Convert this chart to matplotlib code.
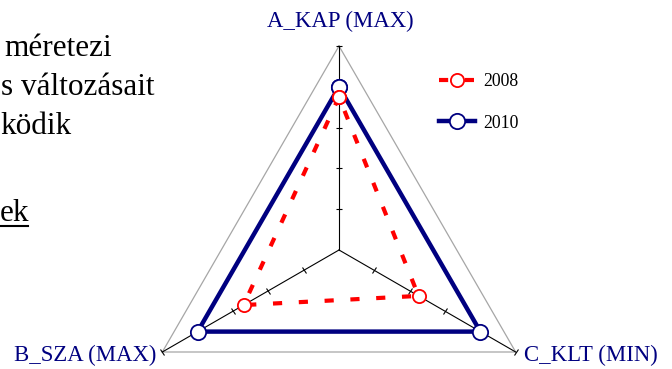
import numpy as np
import matplotlib
matplotlib.use('Agg')
import matplotlib.pyplot as plt
from matplotlib.markers import MarkerStyle
from matplotlib.transforms import Affine2D
from matplotlib.lines import Line2D

# ---- data ----
categories = ['A_KAP (MAX)', 'B_SZA (MAX)', 'C_KLT (MIN)']
series_names = ['2008', '2010']
values_2008 = [0.75, 0.54, 0.45]
values_2010 = [0.80, 0.80, 0.80]
r_ticks = [0.2, 0.4, 0.6, 0.8, 1.0]
r_max = 1.0

body_lines = ['méretezi', 's változásait', 'ködik']
underlined_word = 'ek'

# ---- layout ----
W, H = 672, 369
plt.rcParams['font.family'] = ['Liberation Serif', 'DejaVu Serif']
fig = plt.figure(figsize=(W / 100, H / 100), dpi=100)


def fx(px):
    return px / W


def fy(py):
    return 1 - py / H


cx, cy, R = 339, 250, 204
ax = fig.add_axes([(cx - R) / W, (H - cy - R) / H, 2 * R / W, 2 * R / H],
                  projection='polar')
ax.set_theta_offset(np.pi / 2)
ax.set_ylim(0, r_max)
ax.set_axis_off()

n = len(categories)
theta = np.arange(n) * 2 * np.pi / n
theta_c = np.append(theta, theta[0])

# outer frame
ax.plot(theta_c, [r_max] * (n + 1), color='#a6a6a6', lw=0.9,
        clip_on=False, zorder=1)
# axes with tick marks
for t in theta:
    ax.plot([t, t], [0, r_max], color='black', lw=0.8, clip_on=False, zorder=2)
    mk = MarkerStyle('_', transform=Affine2D().rotate_deg(np.degrees(t)))
    ax.plot([t] * len(r_ticks), r_ticks, ls='none', marker=mk, ms=5, mew=0.8,
            color='black', clip_on=False, zorder=2)

navy = '#000080'
l10, = ax.plot(theta_c, np.append(values_2010, values_2010[0]), color=navy,
               lw=3.2, marker='o', ms=11, mfc='white', mec=navy, mew=1.3,
               clip_on=False, zorder=3)
l08, = ax.plot(theta_c, np.append(values_2008, values_2008[0]), color='#ff0000',
               lw=3.0, dashes=(2.2, 4.0), marker='o', ms=9.5, mfc='white',
               mec='#ff0000', mew=1.3, clip_on=False, zorder=4)

# category labels
label_offsets = [((1, 25), 'center'), ((-6, -3), 'right'), ((8, -3), 'left')]
for t, cat, (off, ha) in zip(theta, categories, label_offsets):
    ax.annotate(cat, xy=(t, r_max), xytext=off, textcoords='offset pixels',
                ha=ha, va='center', fontsize=16.4, color=navy,
                annotation_clip=False)

# legend
fig.legend(handles=[l08, l10], labels=series_names, loc='upper left',
           bbox_to_anchor=(fx(439), fy(73)), frameon=False, borderpad=0,
           borderaxespad=0, handlelength=2.0, handletextpad=0.5,
           labelspacing=1.38, fontsize=12.8, numpoints=1)

# surrounding document text
body_x = [4, 1, 0]
body_baseline = [56, 95, 134]
for txt, x, y in zip(body_lines, body_x, body_baseline):
    fig.text(fx(x), fy(y), txt, fontsize=22.5, ha='left', va='baseline',
             color='black')
fig.text(fx(0), fy(221), underlined_word, fontsize=22.5, ha='left',
         va='baseline', color='black')
fig.add_artist(Line2D([0, fx(28)], [fy(226), fy(226)], color='black', lw=1.5,
                      transform=fig.transFigure))

fig.savefig('out.png', dpi=100)
